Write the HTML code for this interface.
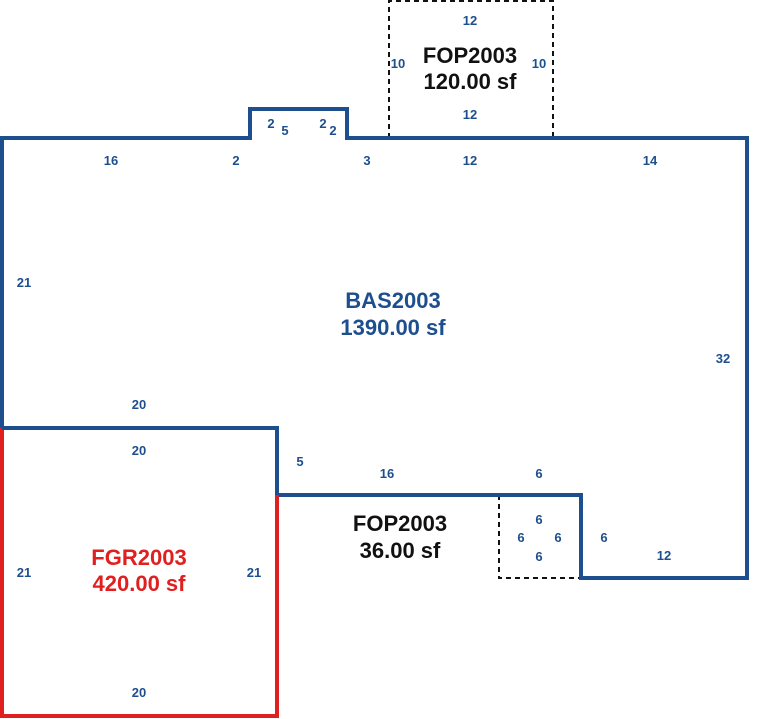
<!DOCTYPE html>
<html><head><style>body{margin:0;background:#fff}svg{display:block}</style></head><body>
<svg width="782" height="719" xmlns="http://www.w3.org/2000/svg" font-family="Liberation Sans, sans-serif" font-weight="bold">
<rect width="782" height="719" fill="#fff"/>
<g fill="none" stroke="#111" stroke-width="2" stroke-dasharray="5,4">
<path d="M389,138 V1 H553 V138"/>
<path d="M499,495 V578 H581"/>
</g>
<path d="M2,428 V138 H250 V109 H347 V138 H747 V578 H581 V495 H277 V428 Z" fill="none" stroke="#1d4f8f" stroke-width="4" stroke-linejoin="miter"/>
<path d="M2,428 V716 H277 V495" fill="none" stroke="#e02020" stroke-width="4"/>
<path d="M2,428 H277 V495" fill="none" stroke="#1d4f8f" stroke-width="4"/>
<g fill="#1d4f8f" font-size="13" text-anchor="middle">
<text x="470" y="25">12</text><text x="398" y="68">10</text><text x="539" y="68">10</text><text x="470" y="119">12</text>
<text x="271" y="128">2</text><text x="285" y="135">5</text><text x="323" y="128">2</text><text x="333" y="135">2</text>
<text x="111" y="165">16</text><text x="236" y="165">2</text><text x="367" y="165">3</text><text x="470" y="165">12</text><text x="650" y="165">14</text>
<text x="24" y="287">21</text><text x="723" y="363">32</text>
<text x="139" y="409">20</text><text x="139" y="455">20</text><text x="300" y="466">5</text><text x="387" y="478">16</text><text x="539" y="478">6</text>
<text x="539" y="524">6</text><text x="521" y="542">6</text><text x="558" y="542">6</text><text x="539" y="561">6</text><text x="604" y="542">6</text><text x="664" y="560">12</text>
<text x="24" y="577">21</text><text x="254" y="577">21</text><text x="139" y="697">20</text>
</g>
<g font-size="22" text-anchor="middle">
<text x="470" y="63" fill="#111">FOP2003</text><text x="470" y="89" fill="#111">120.00 sf</text>
<text x="393" y="308" fill="#1d4f8f">BAS2003</text><text x="393" y="335" fill="#1d4f8f">1390.00 sf</text>
<text x="400" y="531" fill="#111">FOP2003</text><text x="400" y="558" fill="#111">36.00 sf</text>
<text x="139" y="565" fill="#e02020">FGR2003</text><text x="139" y="591" fill="#e02020">420.00 sf</text>
</g>
</svg>
</body></html>
